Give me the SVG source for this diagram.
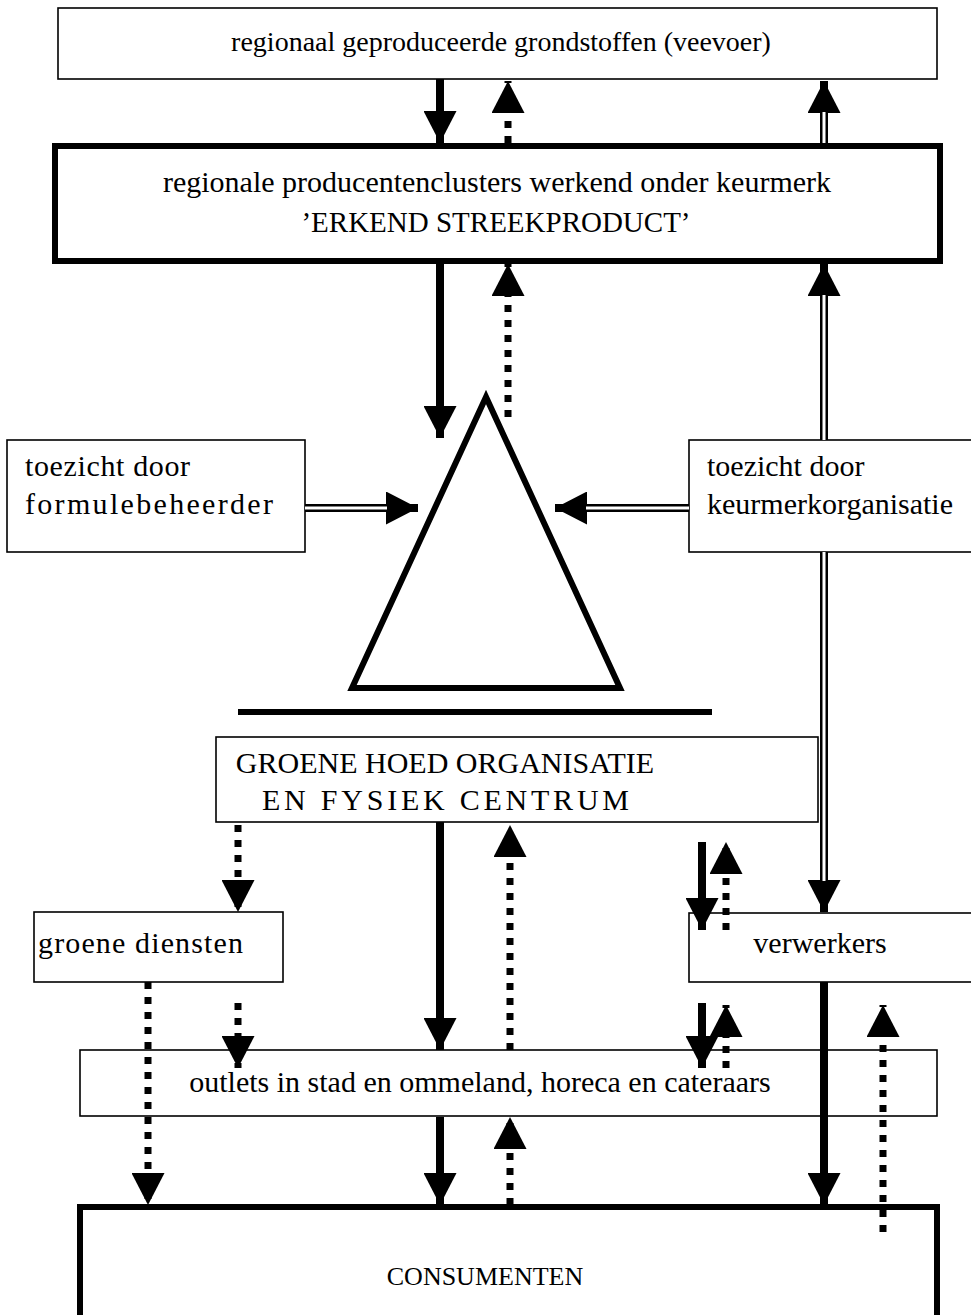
<svg xmlns="http://www.w3.org/2000/svg" width="971" height="1315" viewBox="0 0 971 1315">
<style>
.thin{fill:#fff;stroke:#000;stroke-width:1.6}
.thick{fill:#fff;stroke:#000;stroke-width:6}
.t{font-family:"Liberation Serif","Times New Roman",serif;font-size:30px;fill:#000}
.c{text-anchor:middle}
.solid{stroke:#000;stroke-width:8;fill:none}
.dot{stroke:#000;stroke-width:7;fill:none;stroke-dasharray:7 8}
.dbl{stroke:#000;stroke-width:8;fill:none}
.dblin{stroke:#fff;stroke-width:3;fill:none}
</style>
<defs>
<marker id="h" viewBox="0 0 32 33" refX="32" refY="16.5" markerWidth="32" markerHeight="33" markerUnits="userSpaceOnUse" orient="auto"><path d="M0,0 L32,16.5 L0,33 z" fill="#000"/></marker>
</defs>
<g id="n-grondstoffen"><rect class="thin" x="58" y="8" width="879" height="71"/><text class="t c" x="501" y="51" style="font-size:28px">regionaal geproduceerde grondstoffen (veevoer)</text></g>
<g id="n-clusters"><rect class="thick" x="55" y="146" width="885" height="115"/><text class="t c" x="497" y="192">regionale producentenclusters werkend onder keurmerk</text><text class="t c" x="496" y="232" style="font-size:29px">’ERKEND STREEKPRODUCT’</text></g>
<g id="n-triangle"><polygon points="486,397 352,688 620,688" fill="none" stroke="#000" stroke-width="6" stroke-linejoin="miter"/><line x1="238" y1="712" x2="712" y2="712" stroke="#000" stroke-width="6"/></g>
<g id="n-formule"><rect class="thin" x="7" y="440" width="298" height="112"/><text class="t" x="25" y="476" textLength="165" lengthAdjust="spacing">toezicht door</text><text class="t" x="25" y="514" textLength="248" lengthAdjust="spacing">formulebeheerder</text></g>
<g id="n-keurmerk"><rect class="thin" x="689" y="440" width="290" height="112"/><text class="t" x="707" y="476">toezicht door</text><text class="t" x="707" y="514">keurmerkorganisatie</text></g>
<g id="n-groenehoed"><rect class="thin" x="216" y="737" width="602" height="85"/><text class="t c" x="445" y="773">GROENE HOED ORGANISATIE</text><text class="t" x="262" y="810" textLength="367" lengthAdjust="spacing">EN FYSIEK CENTRUM</text></g>
<g id="n-diensten"><rect class="thin" x="34" y="912" width="249" height="70"/><text class="t" x="38" y="953" textLength="205" lengthAdjust="spacing">groene diensten</text></g>
<g id="n-verwerkers"><rect class="thin" x="689" y="913" width="290" height="69"/><text class="t c" x="820" y="953">verwerkers</text></g>
<g id="n-outlets"><rect class="thin" x="80" y="1050" width="857" height="66"/><text class="t c" x="480" y="1092">outlets in stad en ommeland, horeca en cateraars</text></g>
<g id="n-consumenten"><rect class="thick" x="80" y="1207" width="857" height="130"/><text class="t c" x="485" y="1285" style="font-size:26px">CONSUMENTEN</text></g>
<g id="connectors">
<line class="solid" x1="440" y1="79" x2="440" y2="143" marker-end="url(#h)"/>
<line class="dot" x1="508" y1="143" x2="508" y2="81" marker-end="url(#h)"/>
<line class="dbl" x1="824" y1="143" x2="824" y2="81" marker-end="url(#h)"/>
<line class="dblin" x1="824" y1="143" x2="824" y2="112"/>
<line class="solid" x1="440" y1="264" x2="440" y2="438" marker-end="url(#h)"/>
<line class="dot" x1="508" y1="417" x2="508" y2="264" marker-end="url(#h)"/>
<line class="dbl" x1="824" y1="440" x2="824" y2="264" marker-end="url(#h)"/>
<line class="dblin" x1="824" y1="440" x2="824" y2="295"/>
<line class="dbl" x1="824" y1="552" x2="824" y2="912" marker-end="url(#h)"/>
<line class="dblin" x1="824" y1="552" x2="824" y2="881"/>
<line class="dbl" x1="305" y1="508" x2="418" y2="508" marker-end="url(#h)"/>
<line class="dblin" x1="305" y1="508" x2="387" y2="508"/>
<line class="dbl" x1="689" y1="508" x2="555" y2="508" marker-end="url(#h)"/>
<line class="dblin" x1="689" y1="508" x2="586" y2="508"/>
<line class="dot" x1="238" y1="825" x2="238" y2="912" marker-end="url(#h)"/>
<line class="solid" x1="440" y1="822" x2="440" y2="1050" marker-end="url(#h)"/>
<line class="dot" x1="510" y1="1050" x2="510" y2="825" marker-end="url(#h)"/>
<line class="solid" x1="702" y1="842" x2="702" y2="930" marker-end="url(#h)"/>
<line class="dot" x1="726" y1="930" x2="726" y2="842" marker-end="url(#h)"/>
<line class="dot" x1="148" y1="982" x2="148" y2="1205" marker-end="url(#h)"/>
<line class="dot" x1="238" y1="1003" x2="238" y2="1068" marker-end="url(#h)"/>
<line class="solid" x1="702" y1="1003" x2="702" y2="1068" marker-end="url(#h)"/>
<line class="dot" x1="726" y1="1068" x2="726" y2="1005" marker-end="url(#h)"/>
<line class="solid" x1="440" y1="1117" x2="440" y2="1205" marker-end="url(#h)"/>
<line class="dot" x1="510" y1="1205" x2="510" y2="1117" marker-end="url(#h)"/>
<line class="solid" x1="824" y1="982" x2="824" y2="1205" marker-end="url(#h)"/>
<line class="dot" x1="883" y1="1232" x2="883" y2="1005" marker-end="url(#h)"/>
</g>
</svg>
